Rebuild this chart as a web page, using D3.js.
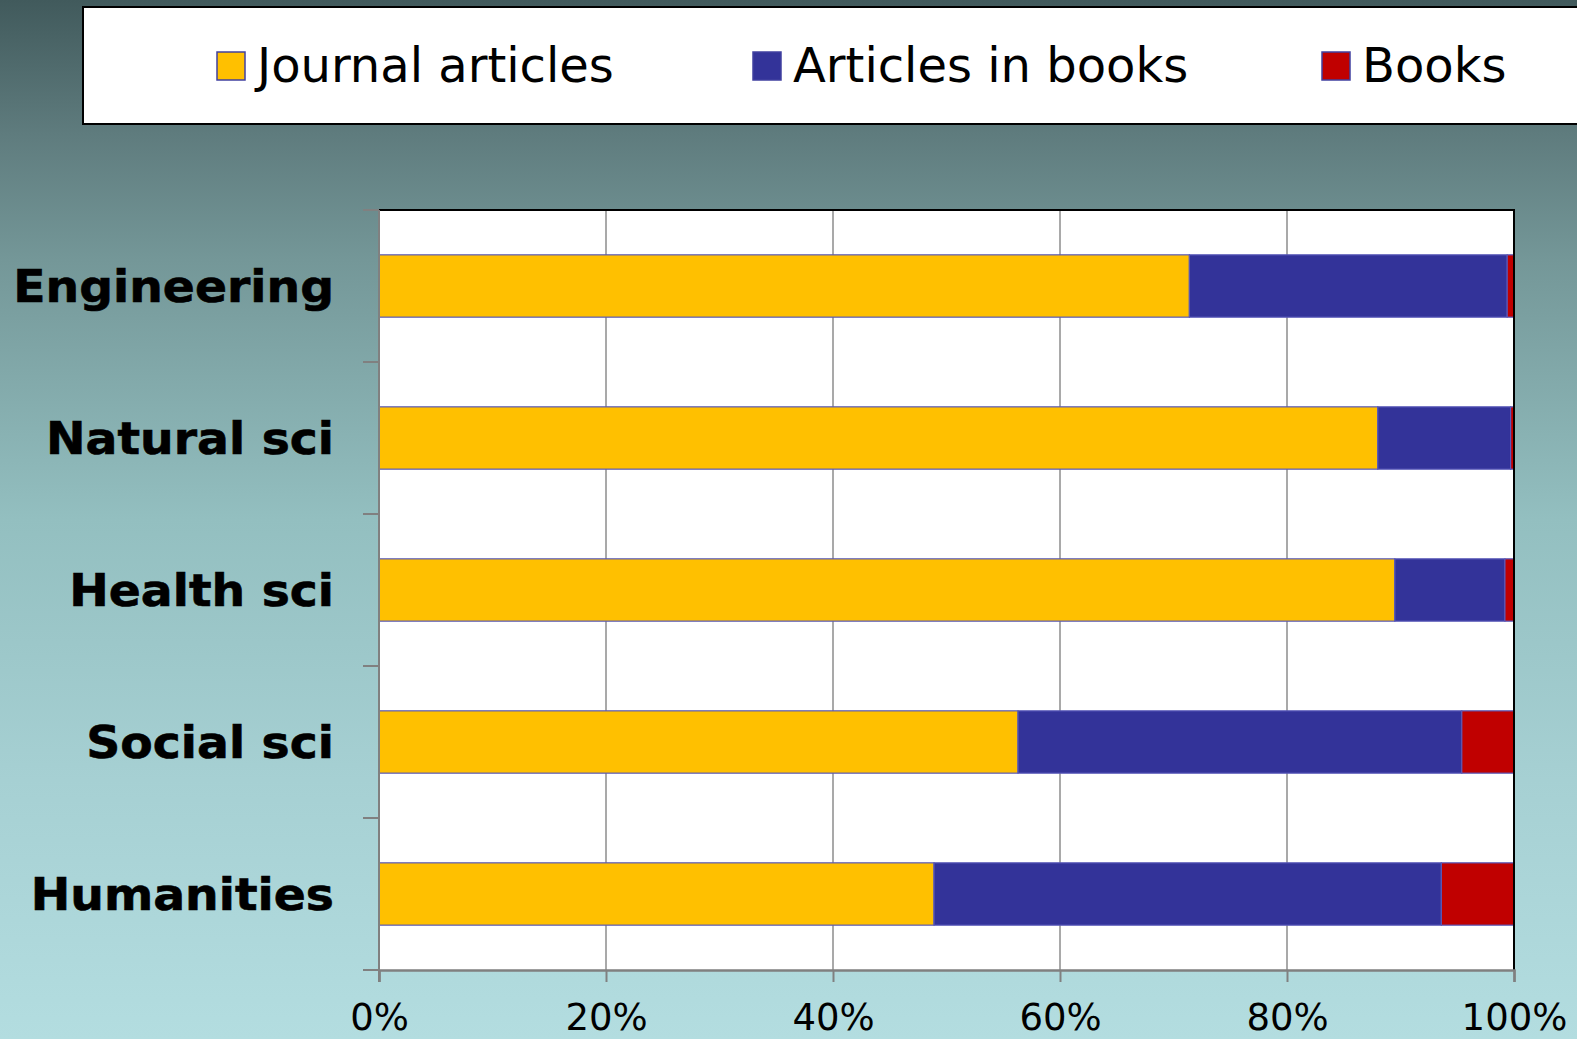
<!DOCTYPE html>
<html>
<head>
<meta charset="utf-8">
<script src="https://cdn.jsdelivr.net/npm/d3@7"></script>
<style>
html,body{margin:0;padding:0;overflow:hidden;}
svg{display:block;}
</style>
</head>
<body>
<script>
const categories = ["Engineering", "Natural sci", "Health sci", "Social sci", "Humanities"];
const seriesNames = ["Journal articles", "Articles in books", "Books"];
const journalArticles = [71.4, 88.0, 89.5, 56.3, 48.9];
const articlesInBooks = [28.0, 11.7, 9.7, 39.1, 44.7];
const books = [0.6, 0.3, 0.8, 4.6, 6.4];
const xTicks = [0, 20, 40, 60, 80, 100];
const xTickLabels = ["0%", "20%", "40%", "60%", "80%", "100%"];
const colors = ["#FFC000", "#333399", "#C00000"];

const W = 1577, H = 1039;
const plot = {left: 379, right: 1514, top: 210, bottom: 970};

const svg = d3.select("body").append("svg").attr("width", W).attr("height", H);
const defs = svg.append("defs");
const grad = defs.append("linearGradient").attr("id", "bg").attr("x1", 0).attr("y1", 0).attr("x2", 0).attr("y2", 1);
[[0, "#415a5c"], [0.13, "#5f7c7e"], [0.25, "#749798"], [0.5, "#93bfc0"], [0.75, "#a6d0d3"], [1, "#b3dde0"]]
  .forEach(([o, c]) => grad.append("stop").attr("offset", o).attr("stop-color", c));
svg.append("rect").attr("width", W).attr("height", H).attr("fill", "url(#bg)");

// data table
const rows = categories.map((c, i) => ({cat: c, v: [journalArticles[i], articlesInBooks[i], books[i]]}));
const stacked = d3.stack().keys([0, 1, 2]).value((d, k) => d.v[k])(rows);

const x = d3.scaleLinear().domain([0, 100]).range([plot.left, plot.right]);
const y = d3.scaleBand().domain(categories).range([plot.top, plot.bottom]).paddingInner(0.59).paddingOuter(0.295);
const yBounds = d3.scaleBand().domain(categories).range([plot.top, plot.bottom]);

// plot background
svg.append("rect").attr("x", plot.left).attr("y", plot.top)
  .attr("width", plot.right - plot.left).attr("height", plot.bottom - plot.top).attr("fill", "#fff");

// gridlines
svg.append("g").selectAll("line").data(xTicks.slice(1, -1)).join("line")
  .attr("x1", d => x(d)).attr("x2", d => x(d)).attr("y1", plot.top).attr("y2", plot.bottom)
  .attr("stroke", "#8c8c8c").attr("stroke-width", 1.5);

// bars
svg.append("g").selectAll("g").data(stacked).join("g")
  .attr("fill", (d, i) => colors[i])
  .selectAll("rect").data(d => d).join("rect")
  .attr("x", d => x(d[0])).attr("width", d => x(d[1]) - x(d[0]))
  .attr("y", d => y(d.data.cat)).attr("height", y.bandwidth())
  .attr("stroke", "#5858b8").attr("stroke-width", 1.2);

// plot frame: top/right black
svg.append("path").attr("d", `M${plot.left},${plot.top}H${plot.right}V${plot.bottom}`)
  .attr("fill", "none").attr("stroke", "#000").attr("stroke-width", 2);

// x axis
const xAxis = d3.axisBottom(x).tickValues(xTicks).tickFormat((d, i) => xTickLabels[i]).tickSize(12).tickPadding(22);
const gx = svg.append("g").attr("transform", `translate(0,${plot.bottom})`).call(xAxis);
gx.select(".domain").attr("stroke", "#808080").attr("stroke-width", 2.5);
gx.selectAll(".tick line").attr("stroke", "#808080").attr("stroke-width", 2);
gx.selectAll(".tick text").attr("font-family", "DejaVu Sans, Verdana, sans-serif").attr("font-size", 37).attr("fill", "#000");

// left axis line and boundary ticks
svg.append("line").attr("x1", plot.left).attr("x2", plot.left).attr("y1", plot.top).attr("y2", plot.bottom + 12)
  .attr("stroke", "#808080").attr("stroke-width", 2);
const bounds = categories.map(c => yBounds(c)).concat([plot.bottom]);
svg.append("g").selectAll("line").data(bounds).join("line")
  .attr("x1", plot.left - 16).attr("x2", plot.left).attr("y1", d => d).attr("y2", d => d)
  .attr("stroke", "#808080").attr("stroke-width", 2);

// category labels (slightly widened to match the heavier, wider face of the reference)
svg.append("g").attr("transform", "translate(334,0) scale(1.075,1)")
  .selectAll("text").data(categories).join("text")
  .attr("x", 0).attr("y", d => y(d) + y.bandwidth() / 2).attr("dy", "0.36em")
  .attr("text-anchor", "end")
  .attr("font-family", "DejaVu Sans, Verdana, sans-serif").attr("font-weight", "bold").attr("font-size", 44)
  .attr("fill", "#000").attr("stroke", "#000").attr("stroke-width", 0.6).text(d => d);

// legend
svg.append("rect").attr("x", 83).attr("y", 7).attr("width", 1600).attr("height", 117)
  .attr("fill", "#fff").attr("stroke", "#000").attr("stroke-width", 2);
const legendX = [217, 753, 1322];
const lg = svg.append("g").selectAll("g").data(seriesNames).join("g")
  .attr("transform", (d, i) => `translate(${legendX[i]},0)`);
lg.append("rect").attr("x", 0).attr("y", 52).attr("width", 28).attr("height", 28)
  .attr("fill", (d, i) => colors[i]).attr("stroke", "#4040a0").attr("stroke-width", 1.5);
lg.append("text").attr("x", 40).attr("y", 82)
  .attr("font-family", "DejaVu Sans, Verdana, sans-serif").attr("font-size", 48).attr("fill", "#000")
  .text(d => d);
</script>
</body>
</html>
